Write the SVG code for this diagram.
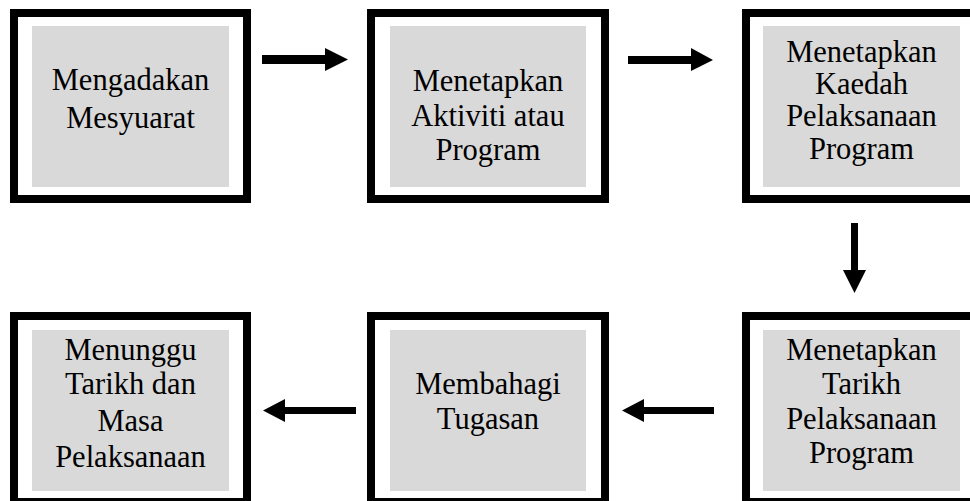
<svg xmlns="http://www.w3.org/2000/svg" width="970" height="501" viewBox="0 0 970 501">
<style>
.frame{fill:#fff;stroke:#000;stroke-width:8}
.fill{fill:#d9d9d9}
.t{font-family:"Liberation Serif","Times New Roman",serif;font-size:30.5px;fill:#000;text-anchor:middle}
.arr{fill:#000}
</style>
<rect width="970" height="501" fill="#fff"/>
<g id="n1">
<rect class="frame" x="14" y="13" width="233" height="186"/>
<rect class="fill" x="32" y="26" width="197" height="161"/>
<text class="t" x="130.5" y="90">Mengadakan</text>
<text class="t" x="130.5" y="128">Mesyuarat</text>
</g>
<g id="n2">
<rect class="frame" x="371" y="13" width="234" height="186"/>
<rect class="fill" x="390" y="26" width="196" height="161"/>
<text class="t" x="488" y="91">Menetapkan</text>
<text class="t" x="488" y="125.5">Aktiviti atau</text>
<text class="t" x="488" y="160">Program</text>
</g>
<g id="n3">
<rect class="frame" x="746" y="13" width="233" height="186"/>
<rect class="fill" x="763" y="26" width="197" height="161"/>
<text class="t" x="861.5" y="62">Menetapkan</text>
<text class="t" x="861.5" y="94">Kaedah</text>
<text class="t" x="861.5" y="126">Pelaksanaan</text>
<text class="t" x="861.5" y="159">Program</text>
</g>
<g id="n4">
<rect class="frame" x="746" y="316" width="233" height="186"/>
<rect class="fill" x="763" y="330" width="197" height="161"/>
<text class="t" x="861.5" y="360">Menetapkan</text>
<text class="t" x="861.5" y="394">Tarikh</text>
<text class="t" x="861.5" y="429">Pelaksanaan</text>
<text class="t" x="861.5" y="463">Program</text>
</g>
<g id="n5">
<rect class="frame" x="371" y="316" width="234" height="186"/>
<rect class="fill" x="390" y="330" width="196" height="161"/>
<text class="t" x="488" y="394">Membahagi</text>
<text class="t" x="488" y="429">Tugasan</text>
</g>
<g id="n6">
<rect class="frame" x="14" y="316" width="233" height="186"/>
<rect class="fill" x="32" y="330" width="197" height="161"/>
<text class="t" x="130.5" y="360">Menunggu</text>
<text class="t" x="130.5" y="394">Tarikh dan</text>
<text class="t" x="130.5" y="431">Masa</text>
<text class="t" x="130.5" y="467">Pelaksanaan</text>
</g>
<g id="connectors">
<polygon class="arr" points="262,55 325,55 325,48 348,59.5 325,71 325,64 262,64"/>
<polygon class="arr" points="628,56 691,56 691,48 713,60 691,71 691,64 628,64"/>
<polygon class="arr" points="851,223 858,223 858,270 866,270 854.5,293 843,270 851,270"/>
<polygon class="arr" points="714,407 644,407 644,399 622,410.5 644,422 644,414 714,414"/>
<polygon class="arr" points="356,407 285,407 285,399 263,410.5 285,422 285,414 356,414"/>
</g>
</svg>
